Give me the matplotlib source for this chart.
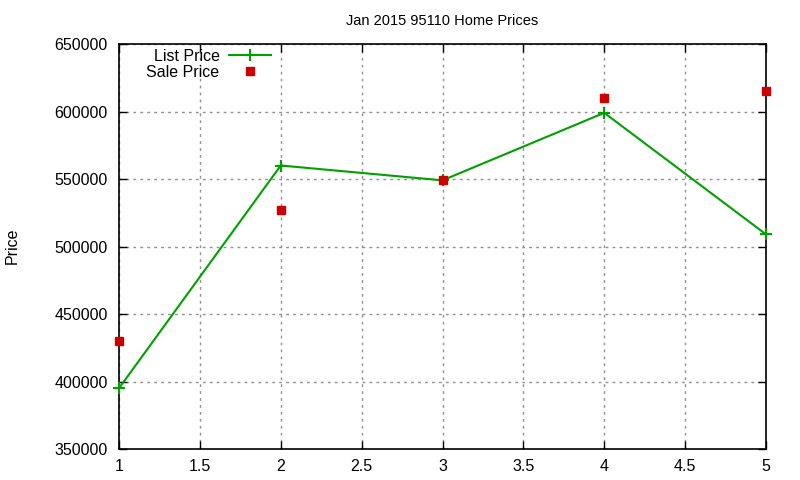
import matplotlib
matplotlib.use("Agg")
import matplotlib.pyplot as plt

x_vals = [1, 2, 3, 4, 5]
list_price = [395000, 560000, 549000, 599000, 509000]
sale_price = [430000, 527000, 549000, 610000, 615000]
x_ticks = [1, 1.5, 2, 2.5, 3, 3.5, 4, 4.5, 5]
y_ticks = [350000, 400000, 450000, 500000, 550000, 600000, 650000]

plt.rcParams['font.family'] = ['Liberation Sans', 'DejaVu Sans']

fig = plt.figure(figsize=(8, 4.8), dpi=100)
ax = fig.add_axes([119/800, 31/480, (766-119)/800, (449-44)/480])

ax.plot(x_vals, list_price, color='#00a000', linewidth=1.5, marker='+',
        markersize=8, markeredgewidth=1.5, label='List Price', clip_on=False, zorder=3)
ax.plot(x_vals, sale_price, linestyle='none', color='#cc0000', marker='s',
        markersize=6, label='Sale Price', clip_on=False, zorder=4)

ax.set_xlim(1, 5)
ax.set_ylim(350000, 650000)
ax.set_xticks(x_ticks)
ax.set_xticklabels(['1', '1.5', '2', '2.5', '3', '3.5', '4', '4.5', '5'])
ax.set_yticks(y_ticks)
ax.set_yticklabels([str(v) for v in y_ticks])
ax.tick_params(direction='in', length=6, width=1, top=True, right=True,
               labelsize=11.5, colors='black')
ax.tick_params(axis='x', pad=7)
ax.tick_params(axis='y', pad=8)
ax.grid(True, color='#909090', linestyle=(0, (2, 3)), linewidth=1)
for s in ax.spines.values():
    s.set_linewidth(1.2)

ax.set_title('Jan 2015 95110 Home Prices', fontsize=10.5, pad=14)
fig.text(12/800, 1 - 246/480, 'Price', rotation=90, ha='center', va='center', fontsize=11.5)

leg = ax.legend(loc='upper left', frameon=False,
                markerfirst=False, fontsize=11.5, handlelength=2.6,
                borderaxespad=0.3, labelspacing=0.05, handletextpad=0.6,
                borderpad=0.0)
leg.set_bbox_to_anchor((0.035, 1.0), transform=ax.transAxes)

fig.savefig('out.png', dpi=100)
